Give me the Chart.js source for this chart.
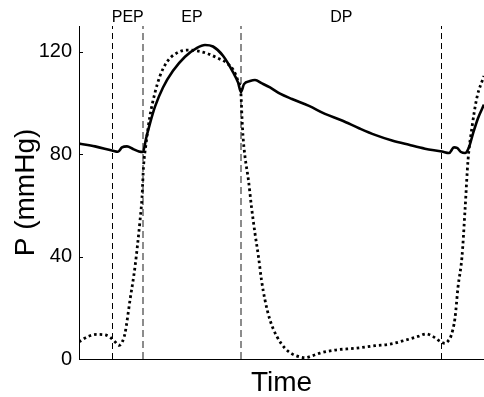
<!DOCTYPE html>
<html><head><meta charset="utf-8">
<script src="https://cdn.jsdelivr.net/npm/chart.js@4/dist/chart.umd.min.js"></script>
<style>html,body{margin:0;padding:0;background:#fff}canvas{display:block}</style>
</head><body>
<canvas id="c" width="484" height="397"></canvas>
<script>
// Time in ms (arbitrary units), pressure in mmHg
const aorticTime = [0,32,66,78,86,96,108,120,128,134,142,152,168,188,212,236,252,268,288,308,318,324,330,342,352,366,382,402,426,460,492,526,560,592,626,660,692,726,740,750,756,764,772,780,788,798,810];
const aorticPressure = [84.1,83.0,81.4,80.9,82.6,83.0,82.0,81.0,80.8,86,92,98.5,106,112.5,118,121.5,122.6,122,118.4,112,108,104.2,107.3,108.5,108.9,107.6,106,103.6,101.5,98.8,95.7,93.1,90.1,87.5,85.3,83.6,82.1,81.0,80.4,82.6,82.4,80.8,80.4,82.7,88,94,99.3];
const ventTime = [0,18,36,52,62,72,80,86,92,102,112,122,126,129,134,142,152,162,176,196,216,236,256,276,296,308,318,324,326,328,332,339,345,352,359,365,372,382,396,412,426,442,452,466,482,512,554,592,622,652,678,694,706,722,732,738,744,752,758,766,772,778,786,796,810];
const ventPressure = [6.7,8.8,9.6,9.4,8.5,6.7,5.3,6.5,10,23,36,54,63,75,84,95,104,110.5,116,119.5,120.6,120.3,119.3,117.6,115.5,113,108.5,103,94,87,79,69.7,59.3,49,39.9,30.8,23,15.2,8.7,4.2,2,0.8,0.5,1.2,2.3,3.5,4.2,5.2,5.8,7.3,8.8,9.8,9,6.9,6.1,7,9,16,28,40,58,77.5,90.5,102.2,110.5];
const phaseBounds = [67,128,324,725];
const phaseLabels = ['PEP','EP','DP'];
const yTicks = [0,40,80,120];
const xRange = [0,810];
const yRange = [0,130];

const FONT = "'Liberation Sans', Arial, Helvetica, sans-serif";
Chart.defaults.font.family = FONT;
Chart.defaults.color = '#000';

const toXY = (xs, ys) => xs.map((x, i) => ({x, y: ys[i]}));

const boundaryStyles = [
  {color:'#000000', width:1, dash:[6,4]},
  {color:'#808080', width:1.8, dash:[7,4]},
  {color:'#808080', width:1.8, dash:[7,4]},
  {color:'#000000', width:1, dash:[6,4]}
];

const boundaryDatasets = phaseBounds.map((b, i) => ({
  data: [{x:b, y:yRange[0]}, {x:b, y:yRange[1]}],
  borderColor: boundaryStyles[i].color,
  borderWidth: boundaryStyles[i].width,
  borderDash: boundaryStyles[i].dash,
  pointRadius: 0,
  fill: false
}));

const phasePlugin = {
  id: 'phaseLabels',
  afterDraw(chart) {
    const {ctx, chartArea, scales:{x, y}} = chart;
    ctx.save();
    ctx.fillStyle = '#000';
    ctx.font = '16px ' + FONT;
    ctx.textAlign = 'center';
    ctx.textBaseline = 'middle';
    for (let i = 0; i < phaseLabels.length; i++) {
      const mid = (phaseBounds[i] + phaseBounds[i+1]) / 2;
      ctx.fillText(phaseLabels[i], x.getPixelForValue(mid), chartArea.top - 8);
    }
    // inward tick marks on y axis
    ctx.strokeStyle = '#000';
    ctx.lineWidth = 1;
    yTicks.forEach(v => {
      const py = Math.round(y.getPixelForValue(v)) + 0.5;
      ctx.beginPath();
      ctx.moveTo(chartArea.left, py);
      ctx.lineTo(chartArea.left + 4, py);
      ctx.stroke();
    });
    ctx.restore();
  }
};

new Chart(document.getElementById('c'), {
  type: 'line',
  data: {
    datasets: [
      {
        data: toXY(aorticTime, aorticPressure),
        borderColor: '#000',
        borderWidth: 2.6,
        cubicInterpolationMode: 'monotone',
        pointRadius: 0,
        fill: false
      },
      {
        data: toXY(ventTime, ventPressure),
        borderColor: '#000',
        borderWidth: 2.8,
        borderDash: [2.6, 3],
        cubicInterpolationMode: 'monotone',
        pointRadius: 0,
        fill: false
      },
      ...boundaryDatasets
    ]
  },
  options: {
    responsive: false,
    animation: false,
    devicePixelRatio: 1,
    layout: {padding: {top: 26, right: 0, left: 0, bottom: 0}},
    plugins: {legend: {display: false}, tooltip: {enabled: false}},
    elements: {point: {radius: 0}},
    scales: {
      x: {
        type: 'linear',
        min: xRange[0], max: xRange[1],
        ticks: {display: false},
        grid: {display: false, drawTicks: false},
        border: {display: true, color: '#000', width: 1},
        title: {display: true, text: 'Time', color: '#000', font: {size: 28, lineHeight: 1}, padding: {top: 0, bottom: 0}},
        afterFit(s) { s.height = 38; }
      },
      y: {
        type: 'linear',
        min: yRange[0], max: yRange[1],
        afterBuildTicks(s) { s.ticks = yTicks.map(v => ({value: v})); },
        ticks: {font: {size: 20}, color: '#000', padding: 7},
        grid: {display: false, drawTicks: false},
        border: {display: true, color: '#000', width: 1},
        title: {display: true, text: 'P (mmHg)', color: '#000', font: {size: 28, lineHeight: 1}, padding: {top: 12, bottom: 0}},
        afterFit(s) { s.width = 79; }
      }
    }
  },
  plugins: [phasePlugin]
});
</script>
</body></html>
